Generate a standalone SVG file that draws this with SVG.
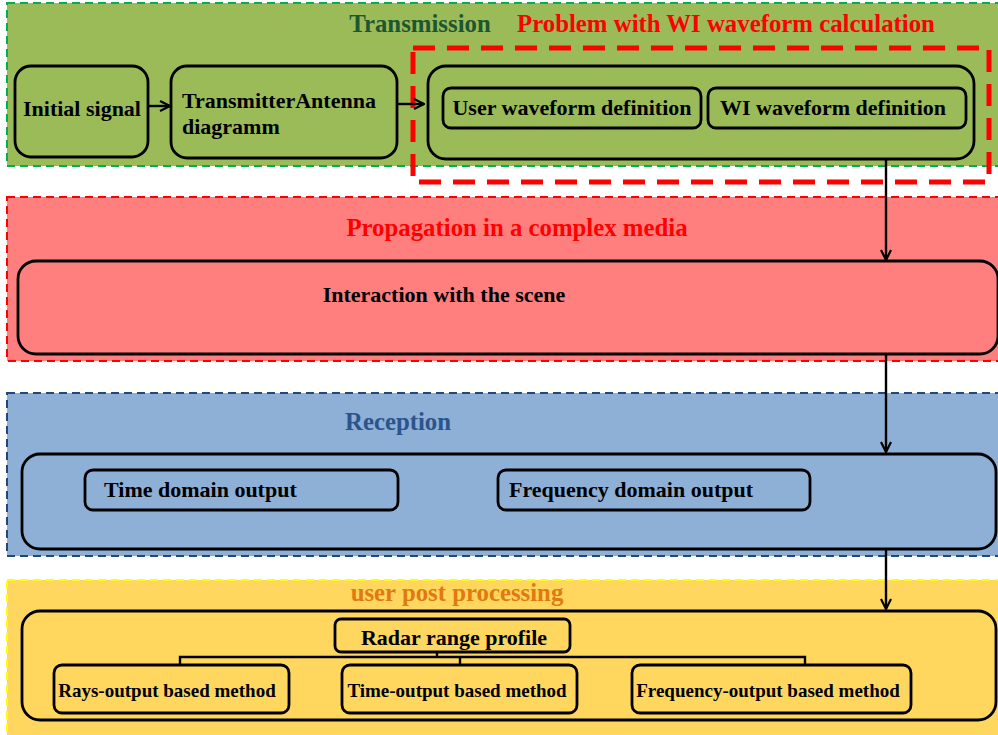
<svg xmlns="http://www.w3.org/2000/svg" width="998" height="735" viewBox="0 0 998 735">
<defs>
<style>
.panel{stroke-width:2;stroke-dasharray:8 5}
.node{fill:none;stroke:#000;stroke-width:2.8}
.t{font-family:"Liberation Serif","Times New Roman",serif;font-weight:bold;fill:#000}
.title{font-family:"Liberation Serif","Times New Roman",serif;font-weight:bold;font-size:24.8px}
.conn{fill:none;stroke:#000;stroke-width:2.4}
</style>
<marker id="arr" viewBox="0 0 12 12" refX="11" refY="6" markerWidth="12" markerHeight="12" markerUnits="userSpaceOnUse" orient="auto">
<path d="M1,1 L11,6 L1,11" fill="none" stroke="#000" stroke-width="2.2"/>
</marker>
</defs>
<rect width="998" height="735" fill="#fff"/>

<g id="panel-transmission">
<rect x="7" y="3" width="995" height="163" fill="#9BBB59" stroke="#00B050" class="panel"/>
<text x="420" y="32" text-anchor="middle" class="title" fill="#1D5630">Transmission</text>
<text x="726" y="32" text-anchor="middle" class="title" fill="#FF0000">Problem with WI waveform calculation</text>
</g>
<g id="panel-propagation">
<rect x="7" y="197" width="995" height="164" fill="#FF7F7F" stroke="#FF0000" class="panel"/>
<text x="517" y="236" text-anchor="middle" class="title" fill="#FF0000">Propagation in a complex media</text>
</g>
<g id="panel-reception">
<rect x="7" y="393" width="995" height="163" fill="#8EAFD6" stroke="#1F497D" class="panel"/>
<text x="398" y="430" text-anchor="middle" class="title" fill="#2A558C">Reception</text>
</g>
<g id="panel-post">
<rect x="7" y="580" width="995" height="160" fill="#FFD75F" stroke="#FFFF00" class="panel"/>
<text x="457" y="601" text-anchor="middle" class="title" fill="#E07A10">user post processing</text>
</g>

<g id="problem-box">
<rect x="413" y="48" width="576" height="134" fill="none" stroke="#FF0000" stroke-width="5" stroke-dasharray="22 12"/>
</g>

<g id="initial-signal">
<rect x="15" y="66" width="133" height="91" rx="16" class="node"/>
<text x="82" y="116" text-anchor="middle" class="t" font-size="22">Initial signal</text>
</g>
<g id="transmitter-antenna">
<rect x="171" y="66" width="226" height="92" rx="16" class="node"/>
<text x="182" y="108" class="t" font-size="22">TransmitterAntenna</text>
<text x="182" y="134" class="t" font-size="22">diagramm</text>
</g>
<g id="waveform-group">
<rect x="428" y="66" width="546" height="93" rx="18" class="node"/>
</g>
<g id="user-waveform">
<rect x="443" y="88" width="258" height="40" rx="8" class="node"/>
<text x="572" y="115" text-anchor="middle" class="t" font-size="22">User waveform definition</text>
</g>
<g id="wi-waveform">
<rect x="708" y="88" width="258" height="40" rx="8" class="node"/>
<text x="833" y="115" text-anchor="middle" class="t" font-size="22">WI waveform definition</text>
</g>

<g id="interaction">
<rect x="18" y="261" width="980" height="93" rx="18" class="node"/>
<text x="444" y="302" text-anchor="middle" class="t" font-size="22">Interaction with the scene</text>
</g>

<g id="reception-group">
<rect x="22" y="454" width="974" height="95" rx="18" class="node"/>
</g>
<g id="time-domain">
<rect x="85" y="470" width="313" height="40" rx="8" class="node"/>
<text x="104" y="497" class="t" font-size="22">Time domain output</text>
</g>
<g id="frequency-domain">
<rect x="498" y="470" width="312" height="40" rx="8" class="node"/>
<text x="509" y="497" class="t" font-size="22">Frequency domain output</text>
</g>

<g id="post-group">
<rect x="22" y="611" width="974" height="109" rx="18" class="node"/>
</g>
<g id="radar-range">
<rect x="335" y="619" width="235" height="33" rx="6" class="node"/>
<text x="454" y="645" text-anchor="middle" class="t" font-size="22">Radar range profile</text>
</g>
<g id="rays-method">
<rect x="54" y="665" width="235" height="48" rx="8" class="node"/>
<text x="167" y="697" text-anchor="middle" class="t" font-size="19">Rays-output based method</text>
</g>
<g id="time-method">
<rect x="342" y="665" width="235" height="48" rx="8" class="node"/>
<text x="457" y="697" text-anchor="middle" class="t" font-size="19">Time-output based method</text>
</g>
<g id="frequency-method">
<rect x="632" y="665" width="279" height="48" rx="8" class="node"/>
<text x="768" y="697" text-anchor="middle" class="t" font-size="19">Frequency-output based method</text>
</g>

<g id="connectors">
<line x1="148" y1="106" x2="170" y2="106" class="conn" marker-end="url(#arr)"/>
<line x1="397" y1="104" x2="424" y2="104" class="conn" marker-end="url(#arr)"/>
<line x1="886" y1="159" x2="886" y2="260" class="conn" marker-end="url(#arr)"/>
<line x1="886" y1="354" x2="886" y2="452" class="conn" marker-end="url(#arr)"/>
<line x1="886" y1="549" x2="886" y2="609" class="conn" marker-end="url(#arr)"/>
<path d="M437,652 V657 M180,665 V657 H805 V665 M460,657 V665" class="conn"/>
</g>
</svg>
